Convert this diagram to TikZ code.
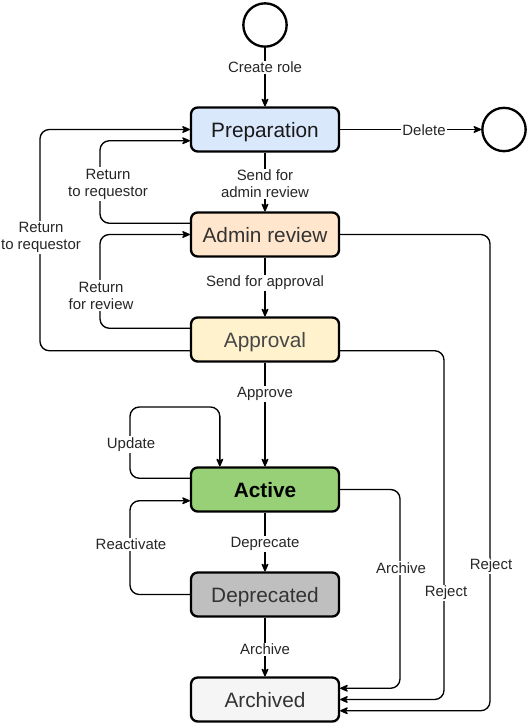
\documentclass[tikz,border=0pt]{standalone}
\usepackage{fontspec}
\setmainfont{Liberation Sans}
\usetikzlibrary{arrows.meta,calc}
\definecolor{prepc}{HTML}{DAE8FC}
\definecolor{adminc}{HTML}{FFE6CC}
\definecolor{apprc}{HTML}{FFF2CC}
\definecolor{actc}{HTML}{97D077}
\definecolor{depc}{HTML}{BFBFBF}
\definecolor{arcc}{HTML}{F5F5F5}
\definecolor{txtc}{HTML}{333333}
\begin{document}
\begin{tikzpicture}[x=0.75pt,y=-0.75pt,
  state/.style={draw=black, line width=1.75pt, rounded corners=5pt,
    minimum width=111pt, minimum height=33pt, inner sep=0pt,
    text height=15.4pt, text depth=3.2pt,
    font=\fontsize{15.6}{18.7}\selectfont, text=txtc},
  term/.style={circle, draw=black, line width=1.75pt, minimum size=32.5pt, inner sep=0pt},
  edge/.style={line width=1pt, rounded corners=7pt,
    -{Stealth[length=7.5pt,width=6.5pt,inset=2.5pt,round]}},
  lbl/.style={fill=white, inner sep=1pt, align=center, text=black!85,
    font=\fontsize{11.2}{12.75}\selectfont}]
\useasboundingbox (0,0) rectangle (528,723);

% nodes
\node[term] (start) at (265,25) {};
\node[state, fill=prepc, text=black!90] (prep) at (265,129.5) {Preparation};
\node[term] (end) at (504,129.5) {};
\node[state, fill=adminc] (admin) at (265,234.5) {Admin review};
\node[state, fill=apprc, text=black!72] (appr) at (265,339.5) {Approval};
\node[state, fill=actc, text=black, font=\fontsize{15.6}{18.7}\selectfont\bfseries] (act) at (265,489.5) {Active};
\node[state, fill=depc] (dep) at (265,594.5) {Deprecated};
\node[state, fill=arcc] (arc) at (265,699.5) {Archived};

% straight connectors
\draw[edge] (start) -- (prep);
\draw[edge] (prep) -- (end);
\draw[edge] (prep) -- (admin);
\draw[edge] (admin) -- (appr);
\draw[edge] (appr) -- (act);
\draw[edge] (act) -- (dep);
\draw[edge] (dep) -- (arc);

% left loops
\draw[edge] ($(admin.west)+(0,-11.25)$) -| (100,180) |- ($(prep.west)+(0,11.25)$);
\draw[edge] ($(appr.west)+(0,11.25)$) -| (40,240) |- (prep.west);
\draw[edge] ($(appr.west)+(0,-11.25)$) -| (100,290) |- (admin.west);
\draw[edge] ($(act.west)+(0,-11.25)$) -| (130,407) -| ($(act.north west)+(30,0)$);
\draw[edge] (dep.west) -| (130,550) |- ($(act.west)+(0,11.25)$);

% right connectors to Archived
\draw[edge] (act.east) -| (400,600) |- ($(arc.east)+(0,-11.25)$);
\draw[edge] ($(appr.east)+(0,11.25)$) -| (444,600) |- (arc.east);
\draw[edge] (admin.east) -| (490,600) |- ($(arc.east)+(0,11.25)$);

% labels
\node[lbl] (l1) at (265,67.5) {Create role};
\node[lbl] (l2) at (424,130.5) {Delete};
\node[lbl] (l3) at (265,184) {Send for\\admin review};
\node[lbl] (l4) at (265,283) {Send for approval};
\node[lbl] (l5) at (265,394) {Approve};
\node[lbl] (l6) at (265,544) {Deprecate};
\node[lbl] (l7) at (265,649.5) {Archive};
\node[lbl] (l8) at (108,184) {Return\\to requestor};
\node[lbl] (l9) at (41,237.5) {Return\\to requestor};
\node[lbl] (l10) at (101,295.5) {Return\\for review};
\node[lbl] (l11) at (131,444.5) {Update};
\node[lbl] (l12) at (131,544.5) {Reactivate};
\node[lbl] (l13) at (401,568) {Archive};
\node[lbl] (l14) at (446,593) {Reject};
\node[lbl] (l15) at (491,566) {Reject};
\end{tikzpicture}
\end{document}
